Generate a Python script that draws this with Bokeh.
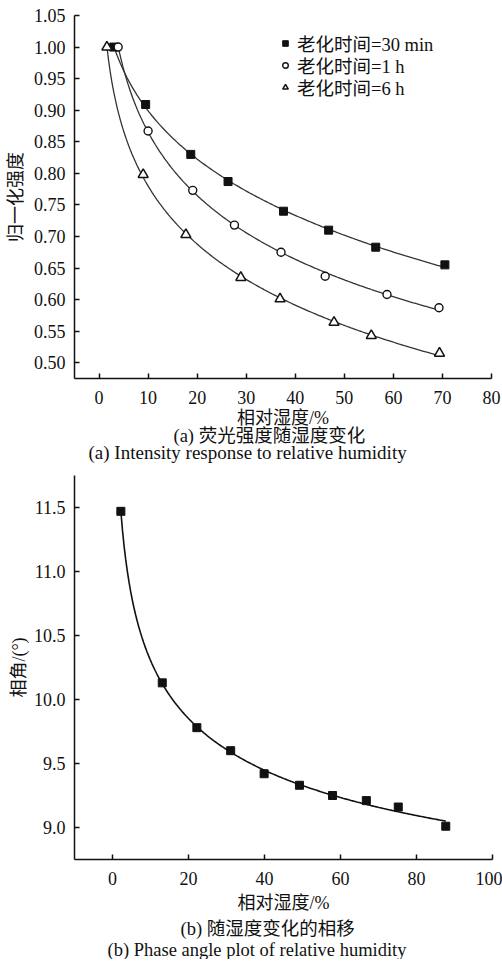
import numpy as np
from bokeh.plotting import figure
from bokeh.layouts import column
from bokeh.models import Range1d, FixedTicker, Legend, LegendItem, Title, NumeralTickFormatter
from bokeh.embed import file_html
from bokeh.resources import INLINE

# (a) normalised fluorescence intensity vs relative humidity, three ageing times
rh_30min = [3.0, 9.5, 18.7, 26.3, 37.6, 46.8, 56.4, 70.5]
int_30min = [1.000, 0.909, 0.830, 0.787, 0.740, 0.710, 0.683, 0.655]
rh_1h = [3.9, 10.0, 19.1, 27.6, 37.1, 46.1, 58.7, 69.3]
int_1h = [1.000, 0.867, 0.773, 0.718, 0.675, 0.637, 0.608, 0.587]
rh_6h = [1.6, 9.0, 17.7, 28.9, 36.9, 47.9, 55.5, 69.4]
int_6h = [1.000, 0.798, 0.703, 0.635, 0.601, 0.564, 0.543, 0.515]
labels_a = ["老化时间=30 min", "老化时间=1 h", "老化时间=6 h"]

# (b) phase angle vs relative humidity
rh_phase = [2.2, 13.1, 22.2, 31.1, 39.9, 49.2, 57.9, 66.8, 75.2, 87.7]
phase_deg = [11.47, 10.13, 9.78, 9.60, 9.42, 9.33, 9.25, 9.21, 9.16, 9.01]

ticks_a_x = [0, 10, 20, 30, 40, 50, 60, 70, 80]
ticks_a_y = [0.50, 0.55, 0.60, 0.65, 0.70, 0.75, 0.80, 0.85, 0.90, 0.95, 1.00, 1.05]
ticks_b_x = [0, 20, 40, 60, 80, 100]
ticks_b_y = [9.0, 9.5, 10.0, 10.5, 11.0, 11.5]

NUM_FONT = "Liberation Serif, serif"
FONT = "Liberation Serif, Noto Sans CJK SC"
INK = "#111111"


def log_fit(xs, ys, n=200):
    """Least-squares fit y = c0 + c1*ln(x) + c2*ln(x)^2, evaluated over the data span."""
    xs = np.asarray(xs, dtype=float)
    coef = np.polyfit(np.log(xs), np.asarray(ys, dtype=float), 2)
    xx = np.linspace(xs.min(), xs.max(), n)
    return xx, np.polyval(coef, np.log(xx))


def style(p, xticks, yticks, yfmt):
    p.outline_line_color = None
    p.xgrid.visible = False
    p.ygrid.visible = False
    p.background_fill_color = "white"
    p.border_fill_color = "white"
    p.xaxis.ticker = FixedTicker(ticks=xticks)
    p.yaxis.ticker = FixedTicker(ticks=yticks)
    p.yaxis.formatter = NumeralTickFormatter(format=yfmt)
    for ax in (p.xaxis[0], p.yaxis[0]):
        ax.axis_line_width = 1.5
        ax.axis_line_color = INK
        ax.major_tick_line_color = INK
        ax.major_tick_line_width = 1.5
        ax.major_tick_in = 5
        ax.major_tick_out = 0
        ax.minor_tick_line_color = None
        ax.major_label_text_font = NUM_FONT
        ax.major_label_text_font_size = "18px"
        ax.major_label_text_color = INK
        ax.axis_label_text_font = FONT
        ax.axis_label_text_font_size = "18px"
        ax.axis_label_text_font_style = "normal"
        ax.axis_label_text_color = INK
    p.xaxis.major_label_standoff = 12
    p.xaxis.axis_label_standoff = 1
    p.yaxis.major_label_standoff = 9


def caption(p, text, size, left, standoff):
    # left: x of the caption's left edge, measured from the frame's left edge
    p.add_layout(Title(text=text, align="left", offset=left, standoff=standoff,
                       text_font=FONT, text_font_size=size, text_font_style="normal",
                       text_color=INK), "below")


# ---------- (a) ----------
pa = figure(frame_width=417, frame_height=363, x_range=Range1d(-5, 80), y_range=Range1d(0.475, 1.05),
            output_backend="svg", toolbar_location=None,
            min_border_left=74, min_border_right=11, min_border_top=15, min_border_bottom=85)
style(pa, ticks_a_x, ticks_a_y, "0.00")
pa.xaxis.axis_label = "相对湿度/%"
pa.yaxis.axis_label = "归一化强度"
pa.yaxis.axis_label_standoff = 5

for xs, ys in ((rh_30min, int_30min), (rh_1h, int_1h), (rh_6h, int_6h)):
    fx, fy = log_fit(xs, ys)
    pa.line(fx, fy, line_color="#333333", line_width=1.3)

r1 = pa.scatter(rh_30min, int_30min, marker="square", size=8, fill_color=INK, line_color=INK)
r2 = pa.scatter(rh_1h, int_1h, marker="circle", size=8, fill_color="white", line_color=INK, line_width=1.4)
r3 = pa.scatter(rh_6h, int_6h, marker="triangle", size=10, fill_color="white", line_color=INK, line_width=1.5)

# one single-entry legend per series so the rows sit 22 px apart
for label, rend, vy in zip(labels_a, (r1, r2, r3), (322, 300, 278)):
    pa.add_layout(Legend(items=[LegendItem(label=label, renderers=[rend])],
                         location=(204, vy), glyph_width=14, glyph_height=18, label_height=18,
                         label_standoff=5, spacing=0, padding=0, margin=0,
                         label_text_font=FONT, label_text_font_size="18.5px", label_text_color=INK,
                         border_line_color=None, background_fill_alpha=0), "center")

caption(pa, "(a) 荧光强度随湿度变化", "18.5px", 99, -14)
caption(pa, "(a) Intensity response to relative humidity", "19px", 14, 2)

# ---------- (b) ----------
pb = figure(frame_width=418, frame_height=384, x_range=Range1d(-10, 100), y_range=Range1d(8.75, 11.75),
            output_backend="svg", toolbar_location=None,
            min_border_left=74, min_border_right=10, min_border_top=12, min_border_bottom=100)
style(pb, ticks_b_x, ticks_b_y, "0.0")
pb.xaxis.axis_label = "相对湿度/%"
pb.xaxis.axis_label_standoff = 5
pb.yaxis.axis_label = "相角/(°)"
pb.yaxis.axis_label_standoff = 2

fx, fy = log_fit(rh_phase, phase_deg)
pb.line(fx, fy, line_color=INK, line_width=1.6)
pb.scatter(rh_phase, phase_deg, marker="square", size=8, fill_color=INK, line_color=INK)

caption(pb, "(b) 随湿度变化的相移", "18.5px", 106, 2)
caption(pb, "(b) Phase angle plot of relative humidity", "18.5px", 33, -4)

layout = column(pa, pb, spacing=0)
open("out.html", "w").write(file_html(layout, INLINE))
